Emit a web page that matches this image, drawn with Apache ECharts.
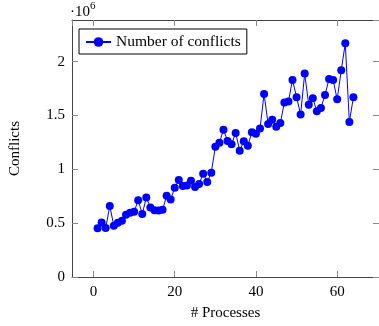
<!DOCTYPE html>
<html>
<head>
<meta charset="utf-8">
<script src="https://cdn.jsdelivr.net/npm/echarts@6/dist/echarts.min.js"></script>
<style>
  html, body { margin: 0; padding: 0; background: #fff; }
  #chart { width: 379px; height: 326px; }
</style>
</head>
<body>
<div id="chart"></div>
<script>
// # processes
const processes = [
  1, 2, 3, 4, 5, 6, 7, 8, 9, 10, 11, 12, 13, 14, 15, 16,
  17, 18, 19, 20, 21, 22, 23, 24, 25, 26, 27, 28, 29, 30, 31, 32,
  33, 34, 35, 36, 37, 38, 39, 40, 41, 42, 43, 44, 45, 46, 47, 48,
  49, 50, 51, 52, 53, 54, 55, 56, 57, 58, 59, 60, 61, 62, 63, 64
];
// number of conflicts
const conflicts = [
  452000, 507000, 455000, 660000, 477000, 505000, 523000, 578000,
  597000, 606000, 713000, 584000, 738000, 646000, 621000, 618000,
  624000, 754000, 720000, 830000, 900000, 846000, 850000, 895000,
  837000, 864000, 960000, 883000, 969000, 1210000, 1248000, 1368000,
  1264000, 1233000, 1338000, 1172000, 1260000, 1220000, 1344000, 1330000,
  1380000, 1700000, 1420000, 1460000, 1395000, 1430000, 1620000, 1630000,
  1830000, 1670000, 1510000, 1890000, 1600000, 1660000, 1540000, 1570000,
  1690000, 1840000, 1830000, 1650000, 1920000, 2170000, 1440000, 1670000
];
const xTickLabels = ["0", "20", "40", "60"];
const yTickLabels = ["0", "0.5", "1", "1.5", "2"];

const FONT = "'Liberation Serif', 'DejaVu Serif', serif";
const LINE = "#444";
const TICK = "#888";

const myChart = echarts.init(document.getElementById("chart"), null, { renderer: "canvas" });

function xLabel(v) {
  const s = String(Math.round(v));
  return Math.abs(v - Math.round(v)) < 1e-6 && xTickLabels.indexOf(s) >= 0 ? s : "";
}
function yLabel(v) {
  const s = String(v / 1e6);
  return yTickLabels.indexOf(s) >= 0 ? s : "";
}

const xBase = {
  type: "value",
  min: -5.3,
  max: 70.3,
  splitNumber: 4,
  splitLine: { show: false },
  axisLine: { show: true, onZero: false, lineStyle: { color: LINE, width: 1 } },
  axisTick: { show: true, inside: true, length: 6, lineStyle: { color: TICK } }
};
const yBase = {
  type: "value",
  min: 0,
  max: 2387000,
  interval: 500000,
  splitLine: { show: false },
  axisLine: { show: true, onZero: false, lineStyle: { color: LINE, width: 1 } },
  axisTick: { show: true, inside: true, length: 6, lineStyle: { color: TICK } }
};

myChart.setOption({
  animation: false,
  textStyle: { fontFamily: FONT },
  grid: { left: 70, top: 20, width: 311, height: 259 },
  legend: {
    left: 79,
    top: 29,
    padding: [5, 6, 4, 6],
    itemWidth: 25,
    itemHeight: 12,
    borderColor: "#000",
    borderWidth: 1,
    borderRadius: 0,
    backgroundColor: "#fff",
    textStyle: { fontFamily: FONT, fontSize: 15.5, color: "#000" },
    data: ["Number of conflicts"]
  },
  xAxis: [
    Object.assign({}, xBase, {
      position: "bottom",
      name: "# Processes",
      nameLocation: "middle",
      nameGap: 29,
      nameTextStyle: { fontFamily: FONT, fontSize: 15, color: "#000" },
      axisLabel: { show: true, margin: 8, color: "#000", fontSize: 15, fontFamily: FONT, formatter: xLabel, showMinLabel: false, showMaxLabel: false }
    }),
    Object.assign({}, xBase, {
      position: "top",
      axisLabel: { show: false }
    })
  ],
  yAxis: [
    Object.assign({}, yBase, {
      position: "left",
      name: "Conflicts",
      nameLocation: "middle",
      nameGap: 49,
      nameTextStyle: { fontFamily: FONT, fontSize: 15, color: "#000" },
      axisLabel: { show: true, margin: 7, color: "#000", fontSize: 15, fontFamily: FONT, formatter: yLabel, showMaxLabel: false }
    }),
    Object.assign({}, yBase, {
      position: "right",
      axisLabel: { show: false }
    })
  ],
  graphic: [
    {
      type: "text",
      left: 70,
      top: 1,
      style: {
        text: "{a|·10}{b|6}",
        rich: {
          a: { fontFamily: FONT, fontSize: 15, fill: "#000", padding: [6, 0, 0, 0] },
          b: { fontFamily: FONT, fontSize: 11, fill: "#000", padding: [0, 0, 6, 0] }
        }
      }
    }
  ],
  series: [
    {
      name: "Number of conflicts",
      type: "line",
      xAxisIndex: 0,
      yAxisIndex: 0,
      data: processes.map((p, i) => [p, conflicts[i]]),
      symbol: "circle",
      symbolSize: 8,
      showAllSymbol: true,
      lineStyle: { color: "#0000ff", width: 1 },
      itemStyle: { color: "#0000ff" }
    }
  ]
});
</script>
</body>
</html>
